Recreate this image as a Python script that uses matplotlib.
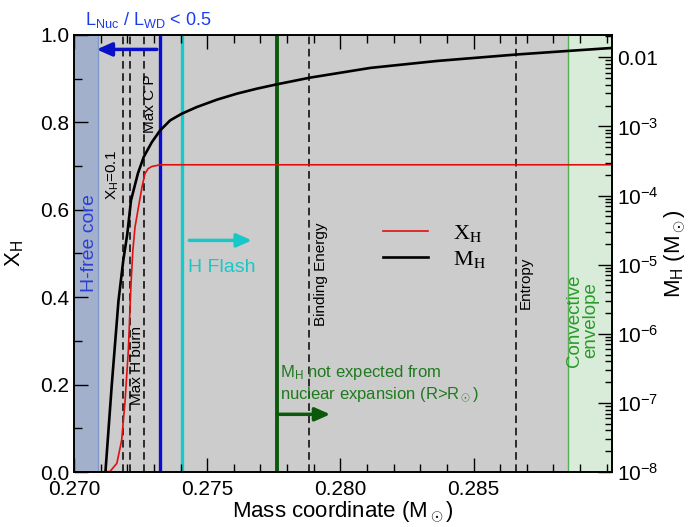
import math
import matplotlib
matplotlib.use("Agg")
import matplotlib.pyplot as plt
from matplotlib.font_manager import FontProperties
from matplotlib.ticker import MultipleLocator, FixedLocator, FuncFormatter, NullFormatter

plt.rcParams['font.family'] = ['Liberation Sans', 'DejaVu Sans']
plt.rcParams['mathtext.fontset'] = 'custom'
plt.rcParams['mathtext.rm'] = 'Liberation Sans'
plt.rcParams['mathtext.it'] = 'Liberation Sans:italic'
plt.rcParams['mathtext.bf'] = 'Liberation Sans:bold'

# ---------------- data ----------------
# hydrogen mass fraction profile
xh_mass = [0.2700, 0.27079, 0.27135, 0.27161, 0.27179, 0.27192, 0.27204, 0.27214,
           0.27221, 0.27229, 0.27242, 0.27255, 0.27266, 0.27278, 0.27292, 0.27323,
           0.2902]
xh_vals = [0.0, 0.0, 0.001, 0.020, 0.073, 0.164, 0.279, 0.430,
           0.507, 0.560, 0.606, 0.651, 0.682, 0.694, 0.699, 0.703,
           0.703]

# cumulative hydrogen mass (right axis, log)
mh_mass = [0.27118, 0.27142, 0.27167, 0.27185, 0.27200, 0.27214, 0.27240, 0.27262,
           0.27292, 0.27323, 0.27361, 0.27405, 0.27461, 0.27537, 0.27612, 0.27687,
           0.27762, 0.27887, 0.28113, 0.28364, 0.28658, 0.28852, 0.29021]
mh_vals = [1.0e-8, 1.86e-7, 3.0e-6, 1.15e-5, 2.75e-5, 8.5e-5, 2.09e-4, 3.63e-4,
           5.89e-4, 8.71e-4, 1.222e-3, 1.528e-3, 1.905e-3, 2.438e-3, 2.979e-3, 3.516e-3,
           4.064e-3, 5.08e-3, 7.02e-3, 8.85e-3, 1.094e-2, 1.233e-2, 1.365e-2]

# characteristic locations
core_edge = 0.27089
dashed_lines = [0.27183, 0.27210, 0.27262, 0.27881, 0.28658]
lnuc_line = 0.27323
flash_line = 0.27405
rsun_line = 0.27763
conv_edge = 0.28856

xlim = (0.2700, 0.2902)
ylim_right = (1e-8, 0.021)
xticks = [0.270, 0.275, 0.280, 0.285]
xticklabels = ['0.270', '0.275', '0.280', '0.285']
yticks = [0.0, 0.2, 0.4, 0.6, 0.8, 1.0]
yticklabels = ['0.0', '0.2', '0.4', '0.6', '0.8', '1.0']
right_ticks = [1e-8, 1e-7, 1e-6, 1e-5, 1e-4, 1e-3, 1e-2]

# ---------------- figure ----------------
fig = plt.figure(figsize=(6.91, 5.27), dpi=100)
ax = fig.add_axes([74/691, 1-472/527, (612-74)/691, (472-35)/527])
ax.set_facecolor('#cccccc')
ax.set_xlim(*xlim)
ax.set_ylim(0, 1)

# shaded regions
ax.axvspan(xlim[0], core_edge, color='#a3b0cb', lw=0, zorder=0.5)
ax.axvline(core_edge, color='#7d99cc', lw=1.0, zorder=0.6)
ax.axvspan(conv_edge, xlim[1], color='#d9ecd9', lw=0, zorder=0.5)
ax.axvline(conv_edge, color='#55b055', lw=1.0, zorder=0.6)

for xv in dashed_lines:
    ax.axvline(xv, color='black', lw=1.1, ls=(0, (5, 3)), zorder=1)
ax.axvline(lnuc_line, color='#0a0ad0', lw=2.4, zorder=1.2)
ax.axvline(flash_line, color='#12cccc', lw=2.4, zorder=1.2)
ax.axvline(rsun_line, color='#0b5a0b', lw=2.8, zorder=1.2)

red_line, = ax.plot(xh_mass, xh_vals, color='#e01010', lw=1.2, zorder=2,
                    label=r'X$_\mathrm{H}$')

ax2 = ax.twinx()
ax2.set_yscale('log')
ax2.set_ylim(*ylim_right)
ax2.patch.set_visible(False)
black_line, = ax2.plot(mh_mass, mh_vals, color='black', lw=1.9, zorder=3,
                       label=r'M$_\mathrm{H}$', solid_joinstyle='round')

# ticks
ax.set_xticks(xticks)
ax.set_xticklabels(xticklabels)
ax.xaxis.set_minor_locator(MultipleLocator(0.001))
ax.set_yticks(yticks)
ax.set_yticklabels(yticklabels)
ax.yaxis.set_minor_locator(MultipleLocator(0.1))
ax.tick_params(which='both', direction='in', top=True, right=False, labelsize=15,
               width=1.0)
ax.tick_params(which='major', length=10)
ax.tick_params(which='minor', length=6)
ax.tick_params(axis='x', pad=6)

minor_right = [m * d for d in right_ticks for m in range(2, 10) if m * d < ylim_right[1]]
ax2.yaxis.set_major_locator(FixedLocator(right_ticks))
ax2.yaxis.set_minor_locator(FixedLocator(minor_right))
ax2.yaxis.set_minor_formatter(NullFormatter())
def fmt(v, pos):
    if abs(v - 1e-2) < 1e-6:
        return '0.01'
    return r'$10^{%d}$' % int(round(math.log10(v)))
ax2.yaxis.set_major_formatter(FuncFormatter(fmt))
ax2.tick_params(which='both', direction='in', labelsize=15, width=1.0)
ax2.tick_params(which='major', length=10)
ax2.tick_params(which='minor', length=5)

for sp in list(ax.spines.values()) + list(ax2.spines.values()):
    sp.set_linewidth(1.2)

ax.set_xlabel(r'Mass coordinate (M$_\odot$)', fontsize=16, labelpad=0)
ax.set_ylabel(r'X$_\mathrm{H}$', fontsize=16, labelpad=10)
ax2.set_ylabel(r'M$_\mathrm{H}$ (M$_\odot$)', fontsize=16, labelpad=3)

# annotations
ax.text(0.27146, 0.680, r'X$_\mathrm{H}$=0.1', rotation=90, fontsize=11,
        ha='center', va='center', zorder=4)
ax.text(0.27237, 0.244, 'Max H burn', rotation=90, fontsize=11,
        ha='center', va='center', zorder=4)
ax.text(0.27286, 0.842, 'Max C P', rotation=90, fontsize=11,
        ha='center', va='center', zorder=4)
ax.text(0.27929, 0.452, 'Binding Energy', rotation=90, fontsize=11,
        ha='center', va='center', zorder=4)
ax.text(0.28695, 0.434, 'Entropy', rotation=90, fontsize=11,
        ha='center', va='center', zorder=4)
ax.text(0.28910, 0.347, 'Convective\nenvelope', rotation=90, fontsize=13.5,
        ha='center', va='center', color='#2a9a2a', linespacing=1.0, zorder=4)
ax.text(0.27060, 0.523, 'H-free core', rotation=90, fontsize=14,
        ha='center', va='center', color='#2a3fd8', zorder=4)
ax.text(0.27429, 0.468, 'H Flash', fontsize=14, ha='left', va='center',
        color='#18c8c8', zorder=4)
ax.text(0.27774, 0.203, 'M$_\\mathrm{H}$ not expected from\nnuclear expansion (R>R$_\\odot$)',
        fontsize=12, ha='left', va='center', color='#1f7a1f', linespacing=1.25, zorder=4)
ax.text(0.27041, 1.034, r'L$_\mathrm{Nuc}$ / L$_\mathrm{WD}$ < 0.5', fontsize=13,
        ha='left', va='center', color='#1a3cf0', clip_on=False, zorder=4)

# arrows
arrow_style = '-|>,head_length=0.9,head_width=0.4'
ax.annotate('', xy=(0.27085, 0.967), xytext=(0.27311, 0.967),
            arrowprops=dict(arrowstyle=arrow_style, color='#0a10c8', lw=2.5,
                            shrinkA=0, shrinkB=0), zorder=4)
ax.annotate('', xy=(0.27668, 0.530), xytext=(0.27433, 0.530),
            arrowprops=dict(arrowstyle=arrow_style, color='#18c8c8', lw=2.5,
                            shrinkA=0, shrinkB=0), zorder=4)
ax.annotate('', xy=(0.27962, 0.132), xytext=(0.27763, 0.132),
            arrowprops=dict(arrowstyle=arrow_style, color='#0b5a0b', lw=2.5,
                            shrinkA=0, shrinkB=0), zorder=4)

# legend
leg_prop = FontProperties(family='Liberation Serif', size=16, math_fontfamily='stix')
leg = ax2.legend(handles=[red_line, black_line], loc='upper left',
                 bbox_to_anchor=(0.537, 0.615), frameon=False, prop=leg_prop,
                 handlelength=2.05, handletextpad=1.1, labelspacing=0.2)

fig.savefig('out.png', dpi=100, facecolor='white')
